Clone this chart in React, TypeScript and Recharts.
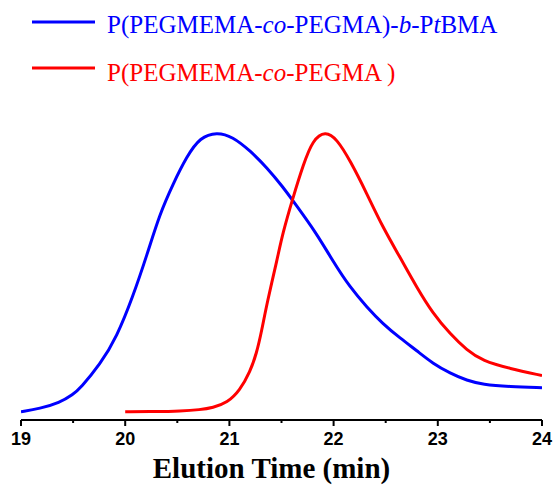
import React from 'react';
import { LineChart, Line, XAxis, YAxis, Legend, Label } from 'recharts';

const blueTime = [19.0, 19.18, 19.37, 19.5, 19.57, 19.76, 19.92, 20.07, 20.21, 20.33, 20.46, 20.59, 20.72, 20.88, 21.03, 21.2, 21.36, 21.51, 21.61, 21.84, 21.99, 22.16, 22.32, 22.47, 22.64, 22.8, 22.95, 23.12, 23.28, 23.43, 23.69, 24.0];
const blueSignal = [0.0, 0.011, 0.032, 0.062, 0.085, 0.17, 0.27, 0.41, 0.565, 0.71, 0.82, 0.918, 0.988, 1.006, 0.99, 0.939, 0.878, 0.81, 0.759, 0.64, 0.543, 0.446, 0.376, 0.317, 0.264, 0.219, 0.174, 0.138, 0.112, 0.098, 0.09, 0.086];

const redTime = [20.0, 20.3, 20.53, 20.72, 20.84, 20.98, 21.1, 21.2, 21.26, 21.31, 21.36, 21.46, 21.51, 21.61, 21.71, 21.8, 21.92, 22.03, 22.16, 22.32, 22.47, 22.64, 22.8, 22.95, 23.12, 23.28, 23.43, 23.69, 24.0];
const redSignal = [0.0, 0.0, 0.002, 0.007, 0.014, 0.032, 0.076, 0.145, 0.209, 0.291, 0.39, 0.55, 0.64, 0.77, 0.89, 0.978, 1.01, 0.982, 0.903, 0.784, 0.665, 0.554, 0.446, 0.355, 0.279, 0.221, 0.183, 0.155, 0.13];

const xTicks = [19, 19.5, 20, 20.5, 21, 21.5, 22, 22.5, 23, 23.5, 24];
const xTitle = 'Elution Time (min)';

const blueData = blueTime.map((t, i) => ({ t, v: blueSignal[i] }));
const redData = redTime.map((t, i) => ({ t, v: redSignal[i] }));

const BLUE = '#0000FF';
const RED = '#FF0000';

const AxisTick = (props: any) => {
  const { x, y, payload } = props;
  const v = payload.value;
  const major = Number.isInteger(v);
  return (
    <g>
      <line x1={x} x2={x} y1={y} y2={y + (major ? 6 : 3)} stroke="#000" strokeWidth={2} />
      {major && (
        <text x={x} y={y + 25} textAnchor="middle" fontFamily="'Liberation Sans', Arial, sans-serif" fontWeight="bold" fontSize={18} fill="#000">
          {v}
        </text>
      )}
    </g>
  );
};

const TitleLabel = (props: any) => {
  const vb = props.viewBox || { x: 21, y: 420, width: 521, height: 40 };
  return (
    <text x={vb.x + vb.width / 2 - 10} y={vb.y + 58} textAnchor="middle" fontFamily="'Liberation Serif', 'Times New Roman', serif" fontWeight="bold" fontSize={29} fill="#000">
      {xTitle}
    </text>
  );
};

const LegendContent = () => (
  <svg width={554} height={100} style={{ display: 'block' }}>
    <line x1={32} x2={95} y1={22} y2={22} stroke={BLUE} strokeWidth={3} />
    <text x={107} y={32.5} fontFamily="'Liberation Serif', 'Times New Roman', serif" fontSize={25} fill={BLUE}>
      P(PEGMEMA-<tspan fontStyle="italic">co</tspan>-PEGMA)-<tspan fontStyle="italic">b</tspan>-P<tspan fontStyle="italic">t</tspan>BMA
    </text>
    <line x1={32} x2={95} y1={68} y2={68} stroke={RED} strokeWidth={3} />
    <text x={107} y={80.5} fontFamily="'Liberation Serif', 'Times New Roman', serif" fontSize={25} fill={RED}>
      P(PEGMEMA-<tspan fontStyle="italic">co</tspan>-PEGMA )
    </text>
  </svg>
);

export default function App() {
  return (
    <div style={{ position: 'absolute', left: 0, top: 0, width: 554, height: 486, background: '#fff' }}>
      <LineChart width={554} height={486} margin={{ top: 106, right: 12, bottom: 26, left: 21 }}>
        <XAxis
          type="number"
          dataKey="t"
          domain={[19, 24]}
          ticks={xTicks}
          interval={0}
          allowDataOverflow
          height={40}
          tickSize={0}
          tickMargin={0}
          tickLine={false}
          axisLine={{ stroke: '#000', strokeWidth: 2 }}
          tick={<AxisTick />}
        >
          <Label content={<TitleLabel />} />
        </XAxis>
        <YAxis hide type="number" domain={[-0.03, 1.1]} allowDataOverflow />
        <Legend
          layout="vertical"
          align="center"
          verticalAlign="middle"
          wrapperStyle={{ top: 0, left: 0, width: 554, height: 100 }}
          content={<LegendContent />}
        />
        <Line data={blueData} dataKey="v" type="basis" stroke={BLUE} strokeWidth={3} dot={false} isAnimationActive={false} />
        <Line data={redData} dataKey="v" type="basis" stroke={RED} strokeWidth={3} dot={false} isAnimationActive={false} />
      </LineChart>
    </div>
  );
}
